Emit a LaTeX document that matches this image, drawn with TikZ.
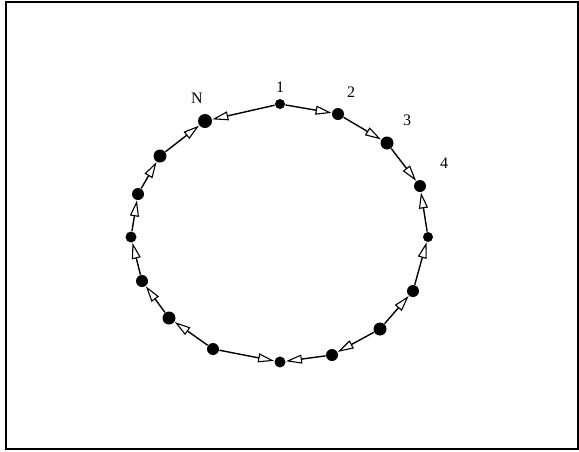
\documentclass[tikz,border=0pt]{standalone}
\usepackage{fontspec}
\setmainfont{Liberation Serif}
\usetikzlibrary{arrows.meta}
\tikzset{
  every picture/.style={line width=1pt},
  dot/.style={circle, fill=black, draw=none, inner sep=0pt, minimum size=#1},
  dot/.default=12pt,
  link/.style={-{Triangle[open, length=16pt, width=9pt, line width=1.1pt]}, line width=1.4pt},
  lbl/.style={font=\fontsize{16}{18}\selectfont},
}
\begin{document}
\begin{tikzpicture}[x=1pt, y=-1pt]
  \useasboundingbox (0,0) rectangle (579,451);
  % frame
  \draw[line width=1.3pt] (6,2) rectangle (578,449);
  % ring of stations, 1 at the top, N last
  \foreach \n/\x/\y/\s in {1/280/104/10pt, 2/338/114/12pt, 3/387/143/13pt, 4/420/186/12pt,
      5/428/237/10pt, 6/413/291/12pt, 7/380/329/13pt, 8/332/355/12pt, 9/280/362/11pt,
      10/213/349/12pt, 11/169/318/13pt, 12/142/281/12pt, 13/131/237/11pt, 14/138/194/12pt,
      15/160/156/13pt, 16/205/121/14pt}
    \node[dot=\s] (p\n) at (\x,\y) {};
  % links between neighbours
  \foreach \a/\b in {1/2, 2/3, 3/4, 5/4, 6/5, 7/6, 7/8, 8/9, 10/9, 10/11, 11/12, 12/13,
      13/14, 14/15, 15/16, 1/16}
    \draw[link] (p\a) -- (p\b);
  % labels
  \node[lbl] (l1) at (280,87) {1};
  \node[lbl] (l2) at (351,92) {2};
  \node[lbl] (l3) at (407,120) {3};
  \node[lbl] (l4) at (444,163) {4};
  \node[lbl] (lN) at (197,98) {N};
\end{tikzpicture}
\end{document}
